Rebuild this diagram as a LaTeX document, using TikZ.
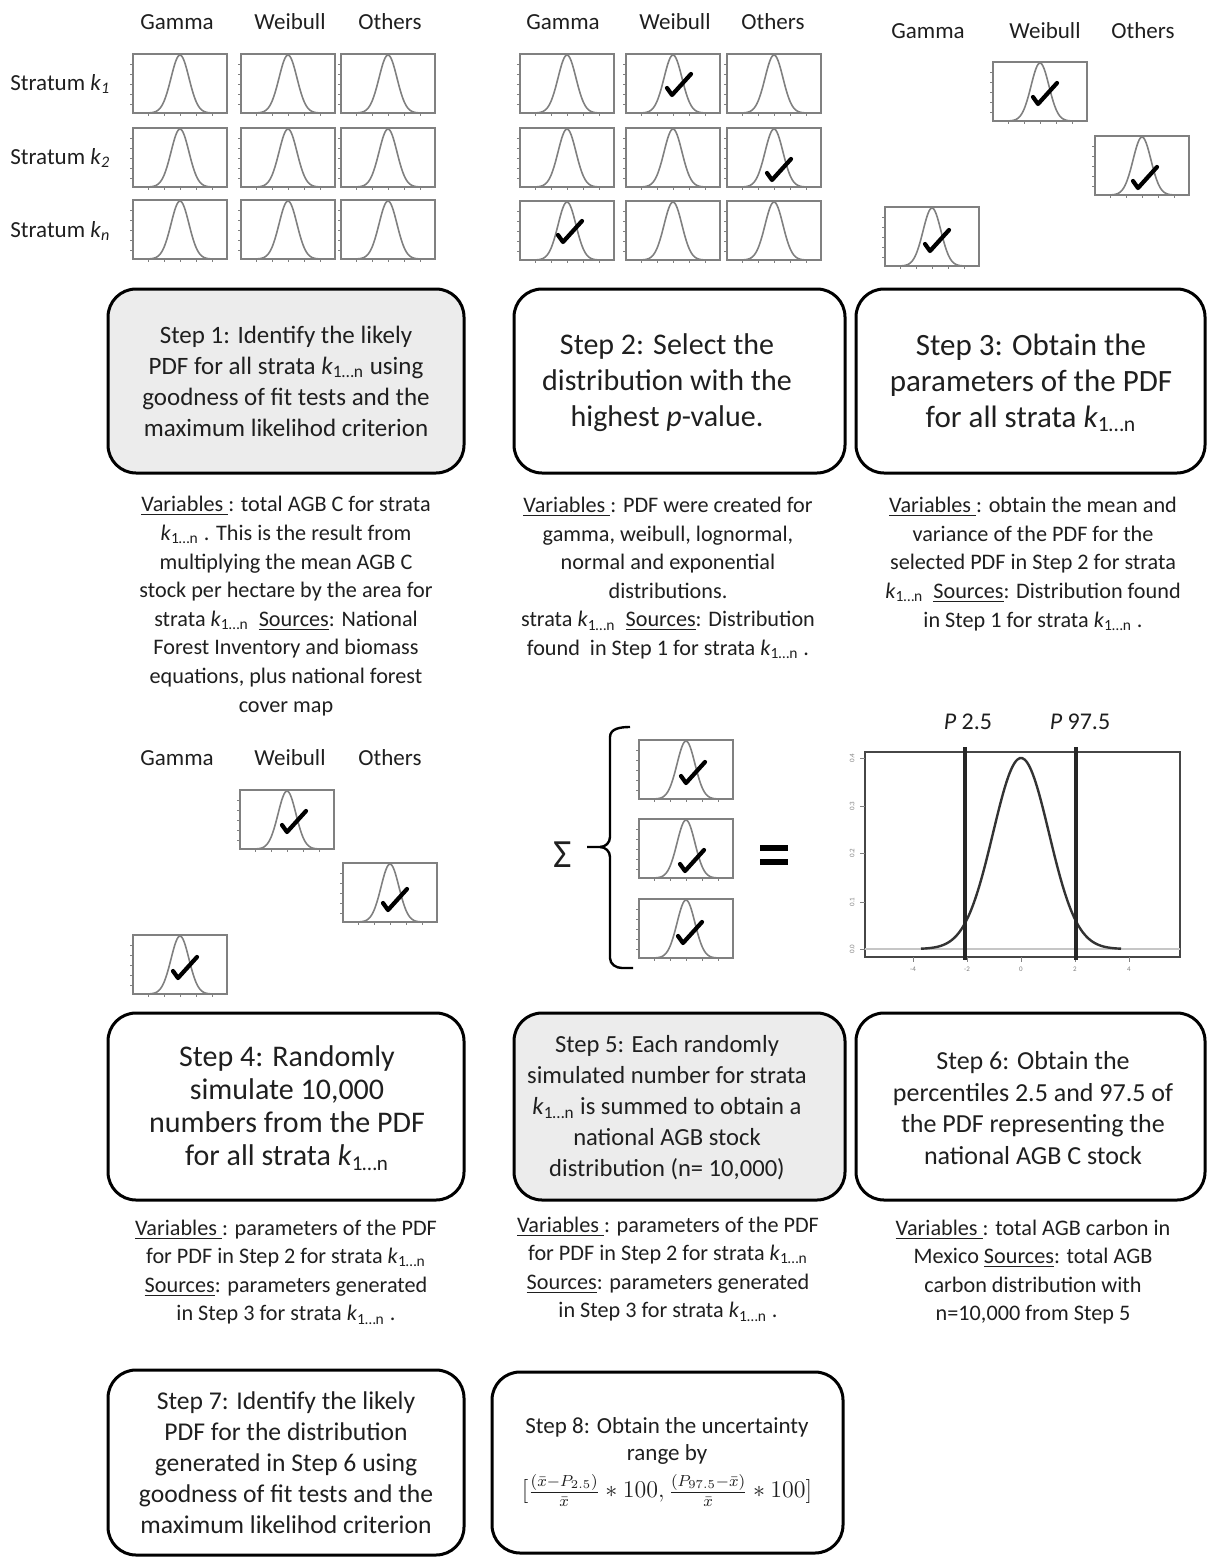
\documentclass[tikz,border=0pt]{standalone}
\usepackage{fontspec}
\setmainfont{Carlito}
\usetikzlibrary{fit}
\definecolor{plotgray}{gray}{0.5}
\definecolor{boxfill}{gray}{0.925}
\definecolor{txt}{gray}{0.12}
\newcommand{\kk}{\textit{k}\textsubscript{1\ldots n}}
\newcommand{\fs}[2]{\fontsize{#1}{#2}\selectfont}
\begin{document}
\begin{tikzpicture}[x=0.5pt,y=-0.5pt,
  stepbox/.style={draw=black, line width=1.5pt, rounded corners=14pt, inner sep=0pt},
  graybox/.style={stepbox, fill=boxfill},
  txtnode/.style={align=center, text=txt, inner sep=0pt},
  hdr/.style={text=txt, font=\fs{11.5}{14}, inner sep=0pt},
  vartext/.style={txtnode, font=\fs{11.1}{14.3}},
  miniplot/.pic={
    \draw[plotgray, line width=0.8pt] (0,0) rectangle (94,59);
    \foreach \ty in {10,20,30,40,50} \draw[plotgray, line width=0.4pt] (0,\ty) -- (-3,\ty);
    \foreach \tx in {15,31,47,63,79} \draw[plotgray, line width=0.4pt] (\tx,59) -- (\tx,62);
    \draw[plotgray, line width=0.8pt] plot[domain=12:82, samples=60, smooth] (\x,{59-58*exp(-(\x-47)*(\x-47)/160)});
  },
  checkmk/.pic={
    \draw[black, line width=2.1pt, line cap=round, line join=round] (-5,-7) -- (0,0) -- (19,-21);
  }
]
\useasboundingbox (0,0) rectangle (1207,1562);

% ---------- group 1 ----------
\node[hdr] (h1a) at (177,22) {Gamma};
\node[hdr] (h1b) at (290,22) {Weibull};
\node[hdr] (h1c) at (390,22) {Others};
\node[hdr, anchor=west] (r1) at (10,84) {Stratum \textit{k}\textsubscript{\textit{1}}};
\node[hdr, anchor=west] (r2) at (10,158) {Stratum \textit{k}\textsubscript{\textit{2}}};
\node[hdr, anchor=west] (r3) at (10,231) {Stratum \textit{k}\textsubscript{\textit{n}}};
\foreach \cx in {133,241,341}
  \foreach \cy in {54,128,200}
    \pic at (\cx,\cy) {miniplot};

% ---------- group 2 ----------
\node[hdr] (h2a) at (563,22) {Gamma};
\node[hdr] (h2b) at (675,22) {Weibull};
\node[hdr] (h2c) at (773,22) {Others};
\foreach \cx in {520,626,727}
  \foreach \cy in {54,128,201}
    \pic at (\cx,\cy) {miniplot};
\pic at (672,95) {checkmk};
\pic at (772,180) {checkmk};
\pic at (563,242) {checkmk};

% ---------- group 3 ----------
\node[hdr] (h3a) at (928,31) {Gamma};
\node[hdr] (h3b) at (1045,31) {Weibull};
\node[hdr] (h3c) at (1143,31) {Others};
\pic at (993,62) {miniplot};
\pic at (1038,104) {checkmk};
\pic at (1095,136) {miniplot};
\pic at (1138,188) {checkmk};
\pic at (885,207) {miniplot};
\pic at (930,251) {checkmk};

% ---------- step boxes row 1 ----------
\node[graybox, fit={(108,289) (464,473)}] (s1) {};
\node[stepbox, fit={(514,289) (845,473)}] (s2) {};
\node[stepbox, fit={(856,289) (1205,473)}] (s3) {};
\node[txtnode, font=\fs{12.5}{15.5}] (t1) at (286,381) {Step 1: Identify the likely\\PDF for all strata \kk\ using\\goodness of fit tests and the\\maximum likelihod criterion};
\node[txtnode, font=\fs{15}{18}] (t2) at (667,383) {Step 2: Select the\\distribution with the\\highest \textit{p}-value.};
\node[txtnode, font=\fs{15.5}{18}] (t3) at (1031,383) {Step 3: Obtain the\\parameters of the PDF\\for all strata \kk};

\node[vartext] (v1) at (286,606) {\underline{Variables\ }: total AGB C for strata\\\kk\ . This is the result from\\multiplying the mean AGB C\\stock per hectare by the area for\\strata \kk\ \ \underline{Sources}: National\\Forest Inventory and biomass\\equations, plus national forest\\cover map};
\node[vartext] (v2) at (668,578) {\underline{Variables\ }: PDF were created for\\gamma, weibull, lognormal,\\normal and exponential\\distributions.\\strata \kk\ \ \underline{Sources}: Distribution\\found\ \ in Step 1 for strata \kk\ .};
\node[vartext] (v3) at (1033,564) {\underline{Variables\ }: obtain the mean and\\variance of the PDF for the\\selected PDF in Step 2 for strata\\\kk\ \ \underline{Sources}: Distribution found\\in Step 1 for strata \kk\ .};

% ---------- group 4 ----------
\node[hdr] (h4a) at (177,758) {Gamma};
\node[hdr] (h4b) at (290,758) {Weibull};
\node[hdr] (h4c) at (390,758) {Others};
\pic at (240,790) {miniplot};
\pic at (287,832) {checkmk};
\pic at (343,863) {miniplot};
\pic at (388,910) {checkmk};
\pic at (133,935) {miniplot};
\pic at (178,978) {checkmk};

% ---------- sum ----------
\node[txtnode, font=\fs{20}{22}] (sig) at (563,855) {Σ};
\draw[black, line width=1.2pt] (630,727) to[out=180,in=90] (610,737) -- (610,837)
  to[out=-90,in=0] (600,847) -- (587,847);
\draw[black, line width=1.2pt] (600,847) to[out=0,in=90] (610,857) -- (610,958)
  to[out=-90,in=180] (622,968) -- (633,968);
\pic at (639,740) {miniplot};
\pic at (686,783) {checkmk};
\pic at (639,819) {miniplot};
\pic at (685,871) {checkmk};
\pic at (639,899) {miniplot};
\pic at (683,943) {checkmk};
\coordinate (eqa) at (760,848);
\coordinate (eqb) at (788,848);
\coordinate (eqc) at (760,862);
\coordinate (eqd) at (788,862);
\draw[black, line width=2.6pt] (eqa) -- (eqb);
\draw[black, line width=2.6pt] (eqc) -- (eqd);

% ---------- big plot ----------
\node[txtnode, font=\fs{12}{14}] (p25) at (968,722) {\textit{P} 2.5};
\node[txtnode, font=\fs{12}{14}] (p975) at (1080,722) {\textit{P} 97.5};
\draw[gray!55!black, line width=0.9pt] (865,752) rectangle (1180,957);
\draw[gray!45, line width=0.6pt] (865,949) -- (1180,949);
\foreach \ty/\tl in {758/0.4,806/0.3,853/0.2,902/0.1,949/0.0}{
  \draw[gray, line width=0.4pt] (865,\ty) -- (860,\ty);
  \node[rotate=90, text=gray, font=\fs{3.5}{4}, inner sep=0pt] at (852,\ty) {\tl};
}
\foreach \tx/\tl in {913/-4,967/-2,1021/0,1075/2,1129/4}{
  \draw[gray, line width=0.4pt] (\tx,957) -- (\tx,962);
  \node[text=gray, font=\fs{3.5}{4}, inner sep=0pt] at (\tx,969) {\tl};
}
\draw[gray!40!black, line width=1.2pt] plot[domain=921:1121, samples=80, smooth]
  (\x,{949-191*exp(-((\x-1021)/28)*((\x-1021)/28)/2)});
\draw[black!85, line width=2pt] (965,747) -- (965,960);
\draw[black!85, line width=2pt] (1076,747) -- (1076,960);

% ---------- step boxes row 2 ----------
\node[stepbox, fit={(108,1013) (464,1200)}] (s4) {};
\node[graybox, fit={(514,1013) (845,1200)}] (s5) {};
\node[stepbox, fit={(856,1013) (1205,1200)}] (s6) {};
\node[txtnode, font=\fs{15}{16.5}] (t4) at (287,1108) {Step 4: Randomly\\simulate 10,000\\numbers from the PDF\\for all strata \kk};
\node[txtnode, font=\fs{12.3}{15.5}] (t5) at (667,1108) {Step 5: Each randomly\\simulated number for strata\\\kk\ is summed to obtain a\\national AGB stock\\distribution (n= 10,000)};
\node[txtnode, font=\fs{13}{15.8}] (t6) at (1033,1108) {Step 6: Obtain the\\percentiles 2.5 and 97.5 of\\the PDF representing the\\national AGB C stock};

\node[vartext] (v4) at (286,1272) {\underline{Variables\ }: parameters of the PDF\\for PDF in Step 2 for strata \kk\\\underline{Sources}: parameters generated\\in Step 3 for strata \kk\ .};
\node[vartext] (v5) at (668,1269) {\underline{Variables\ }: parameters of the PDF\\for PDF in Step 2 for strata \kk\\\underline{Sources}: parameters generated\\in Step 3 for strata \kk\ .};
\node[vartext] (v6) at (1033,1272) {\underline{Variables\ }: total AGB carbon in\\Mexico \underline{Sources}: total AGB\\carbon distribution with\\n=10,000 from Step 5};

% ---------- step boxes row 3 ----------
\node[stepbox, fit={(108,1370) (464,1555)}] (s7) {};
\node[stepbox, fit={(492,1372) (843,1553)}] (s8) {};
\node[txtnode, font=\fs{12.8}{15.5}] (t7) at (286,1463) {Step 7: Identify the likely\\PDF for the distribution\\generated in Step 6 using\\goodness of fit tests and the\\maximum likelihod criterion};
\node[txtnode, font=\fs{11.5}{13.5}] (t8) at (667,1462) {Step 8: Obtain the uncertainty\\range by\\[4pt]$[\frac{(\bar{x}-P_{2.5})}{\bar{x}}\ast 100,\frac{(P_{97.5}-\bar{x})}{\bar{x}}\ast 100]$};
\end{tikzpicture}
\end{document}
